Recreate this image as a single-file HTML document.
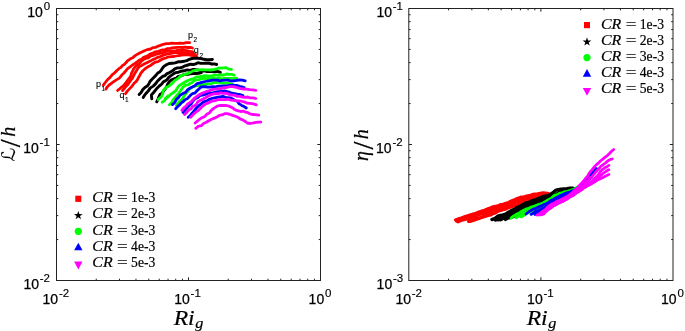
<!DOCTYPE html>
<html><head><meta charset="utf-8"><title>Figure</title>
<style>
html,body{margin:0;padding:0;background:#fff;}
body{width:685px;height:331px;overflow:hidden;position:relative;}
svg{position:absolute;left:0;top:0;display:block;}
.tk{font-family:"Liberation Sans",sans-serif;font-size:14px;fill:#000;stroke:#000;stroke-width:0.25px;}
.sp{font-family:"Liberation Sans",sans-serif;font-size:11.5px;fill:#000;stroke-width:0.15px;}
.ann{font-family:"Liberation Sans",sans-serif;font-size:9px;fill:#000;stroke:#000;stroke-width:0.1px;}
.anns{font-family:"Liberation Sans",sans-serif;font-size:6.5px;fill:#000;}
.it{font-family:"Liberation Serif",serif;font-style:italic;fill:#000;stroke:#000;stroke-width:0.2px;}
.rm{font-family:"Liberation Serif",serif;font-style:normal;fill:#000;stroke:#000;stroke-width:0.2px;}
.cal{font-family:"DejaVu Sans",sans-serif;font-style:italic;fill:#000;}
.c{fill:none;stroke-linejoin:round;stroke-linecap:round;}
</style></head><body>
<svg width="685" height="331" viewBox="0 0 685 331">
<rect x="0" y="0" width="685" height="331" fill="#fff"/>

<g class="c" stroke="#ff0000" stroke-width="2.8">
<path d="M103.3 85.2 L105.3 82.5 L107.4 79.8 L110.1 77.4 L112.3 74.6 L114.7 72.8 L116.7 70.8 L118.9 68.7 L121.0 67.3 L122.4 65.5 L124.4 64.4 L126.1 62.5 L128.1 60.3 L130.4 58.8 L132.8 57.7 L134.8 55.9 L137.2 54.4 L139.7 53.0 L142.3 51.8 L145.0 50.5 L147.7 49.5 L150.6 49.0 L152.9 47.6 L155.5 47.4 L157.8 46.3 L160.4 45.4 L163.2 44.3 L166.2 43.6 L169.0 43.7 L171.7 43.1 L174.4 43.4 L177.2 43.4 L180.0 43.2 L183.0 43.3 L186.2 42.7 L189.6 42.7"/>
<path d="M105.9 89.0 L107.3 86.9 L109.1 85.0 L111.3 83.4 L113.7 81.6 L116.4 79.9 L119.0 78.4 L120.6 76.7 L122.0 74.8 L124.0 73.0 L125.8 70.8 L127.6 68.6 L130.1 66.8 L132.5 65.0 L135.0 63.5 L137.1 62.0 L139.0 60.4 L141.4 59.4 L143.3 57.6 L145.7 56.5 L148.2 55.5 L150.5 53.9 L153.0 53.1 L155.3 51.8 L157.8 51.3 L160.3 50.7 L162.7 49.9 L165.1 49.6 L167.5 48.6 L170.0 48.4 L172.4 48.0 L174.9 47.6 L177.6 47.3 L180.3 47.4 L182.8 47.5 L185.3 47.2 L187.7 47.5 L190.1 47.3 L192.5 48.0"/>
<path d="M117.6 90.4 L119.7 88.8 L121.6 87.1 L123.8 85.4 L125.8 83.0 L127.6 80.3 L129.5 77.9 L131.0 75.6 L131.5 73.1 L132.7 70.9 L133.8 68.6 L135.5 66.6 L137.5 64.8 L139.8 63.3 L141.3 61.2 L143.4 59.6 L145.7 58.5 L148.3 57.8 L150.5 56.2 L153.0 55.5 L155.4 54.5 L157.9 53.9 L160.3 53.2 L162.7 52.6 L165.0 51.7 L167.5 51.3 L169.9 51.0 L172.4 51.2 L174.8 51.1 L177.3 50.4 L179.9 50.3 L182.4 50.2 L185.0 50.3 L187.7 50.8 L190.3 51.4 L193.0 51.8"/>
<path d="M122.5 90.6 L124.1 88.6 L125.8 86.5 L127.7 84.7 L129.1 82.6 L130.5 80.6 L132.1 78.7 L133.3 76.3 L134.6 73.7 L136.1 71.2 L137.5 69.0 L139.0 66.7 L141.8 65.4 L144.6 63.8 L147.4 62.5 L150.3 61.1 L152.9 59.6 L155.4 58.5 L157.8 57.3 L160.3 56.6 L162.6 55.4 L165.0 54.6 L167.5 54.0 L169.9 53.5 L172.4 53.2 L174.8 52.7 L177.3 52.5 L179.9 52.6 L182.5 52.5 L185.0 52.8 L187.6 52.9 L190.2 53.9 L192.8 54.1 L195.4 54.4"/>
<path d="M125.5 93.7 L127.1 91.4 L129.0 89.4 L130.9 87.4 L132.6 85.4 L134.1 83.3 L136.0 81.6 L137.5 79.6 L138.5 77.4 L139.7 75.5 L140.9 73.2 L143.1 70.5 L145.9 68.2 L148.3 66.6 L150.6 65.5 L152.8 63.7 L155.2 62.2 L158.0 61.6 L160.3 60.2 L162.8 58.8 L165.8 58.0 L168.6 56.8 L171.2 56.6 L173.7 56.5 L176.1 56.0 L178.7 55.5 L181.7 55.0 L185.0 54.9 L188.1 54.7 L191.0 55.4 L193.8 55.7 L196.6 56.1"/>
</g>
<g class="c" stroke="#000000" stroke-width="2.9">
<path d="M139.1 94.5 L141.1 92.5 L142.8 89.6 L144.9 87.5 L147.2 86.1 L148.7 84.1 L149.8 81.8 L151.6 79.7 L153.8 77.5 L155.9 75.4 L157.7 73.1 L159.8 71.9 L161.2 70.3 L162.3 68.4 L163.9 66.4 L166.4 64.8 L169.1 63.5 L172.2 63.2 L175.2 62.9 L178.1 61.8 L181.1 61.8 L183.9 61.3 L186.8 60.7 L189.4 59.3 L192.0 58.5 L194.9 58.1 L198.1 58.2 L201.2 58.6 L203.9 59.3 L206.6 59.8 L209.5 59.8 L212.4 59.5"/>
<path d="M143.2 97.6 L144.6 95.2 L146.2 93.2 L148.2 91.1 L150.1 88.1 L153.2 86.1 L155.7 83.6 L157.3 81.3 L159.0 79.6 L160.8 77.9 L162.8 76.3 L165.2 75.5 L167.0 73.6 L169.5 72.6 L172.2 71.1 L174.8 68.9 L177.4 67.9 L180.0 67.9 L182.5 67.1 L185.1 65.8 L187.9 65.0 L190.6 64.2 L193.3 64.5 L195.7 63.9 L198.0 62.7 L200.5 63.3 L202.9 63.4 L205.5 63.1 L208.6 63.2 L211.7 64.0 L214.3 63.9 L216.7 64.5"/>
<path d="M151.8 98.8 L151.4 95.0 L154.0 92.0 L156.5 88.8 L159.3 86.0 L161.9 83.9 L163.3 81.8 L165.4 80.9 L167.1 79.6 L168.6 77.5 L170.7 75.9 L173.1 74.1 L175.8 72.6 L178.4 72.2 L180.9 71.3 L183.9 70.8 L187.1 69.9 L190.3 70.4 L193.3 69.4 L196.4 69.6 L199.6 70.3 L202.2 71.1 L204.7 70.8 L207.1 71.6 L209.5 71.3 L212.0 71.5 L214.5 71.8 L217.5 71.4 L220.4 72.3"/>
<path d="M156.7 101.8 L158.1 98.8 L159.1 96.3 L160.1 94.3 L162.3 93.2 L163.4 91.0 L165.3 88.9 L166.8 86.2 L168.1 83.5 L169.7 81.2 L171.7 79.8 L173.9 78.9 L176.3 78.2 L178.3 76.3 L180.9 75.8 L183.3 74.8 L185.6 74.2 L188.1 74.3 L190.6 73.7 L193.3 73.5 L196.0 73.5 L198.7 73.4 L201.3 72.6"/>
</g>
<g class="c" stroke="#00ff00" stroke-width="2.8">
<path d="M158.1 99.5 L159.9 97.9 L161.8 96.1 L162.8 93.4 L163.3 90.6 L164.6 88.8 L166.4 87.3 L168.6 86.2 L170.6 84.8 L172.5 83.2 L174.0 81.2 L176.1 79.6 L178.5 78.1 L180.7 75.9 L183.7 74.7 L186.9 73.8 L190.0 72.6 L193.0 70.9 L196.3 70.0 L199.6 69.9 L202.5 69.6 L205.1 69.9 L207.7 69.8 L210.5 70.0 L213.4 69.6 L216.1 69.2 L218.5 68.0 L221.1 68.1 L223.5 67.9 L226.2 67.7 L228.7 69.1 L231.5 69.3"/>
<path d="M162.2 102.2 L164.6 100.6 L166.0 98.2 L168.4 96.8 L170.3 94.6 L172.9 92.8 L175.3 91.3 L176.8 89.1 L178.4 86.4 L180.8 84.6 L183.0 83.2 L185.0 82.0 L187.3 80.7 L190.3 79.5 L193.6 78.6 L196.6 76.9 L199.7 76.7 L202.4 76.2 L204.8 75.7 L207.3 75.9 L209.9 76.1 L212.6 75.6 L215.4 74.8 L218.3 75.4 L221.1 75.0 L223.9 75.0 L226.6 74.0 L229.2 74.4 L231.7 74.4 L234.1 75.2"/>
<path d="M169.4 104.8 L171.5 102.8 L172.9 100.2 L174.7 97.9 L176.8 95.5 L179.1 92.8 L181.2 89.8 L183.3 86.9 L185.5 85.2 L188.0 84.8 L189.9 83.5 L192.1 82.5 L194.0 80.8 L196.2 79.8 L198.7 79.7 L201.1 78.9 L203.5 78.1 L206.0 78.8 L208.4 78.5 L210.9 78.6 L213.5 78.0 L216.1 78.8 L218.8 78.1 L221.5 78.9 L224.2 78.5 L227.1 78.3 L230.1 78.4 L233.4 78.7 L236.8 78.2"/>
<path d="M176.3 105.3 L177.7 103.5 L179.5 101.5 L182.0 99.4 L183.8 96.5 L185.5 94.0 L187.5 91.6 L189.5 89.2 L191.6 87.6 L193.8 86.5 L196.7 85.6 L200.0 85.4 L202.9 84.6 L205.8 84.5 L208.5 83.9 L211.1 83.6 L213.5 82.6 L216.2 82.5 L219.0 82.2 L221.7 83.1 L224.7 83.2 L227.8 83.2 L230.7 84.0 L233.1 84.6"/>
<path d="M165.2 99.0 L168.0 96.0"/>
</g>
<g class="c" stroke="#0000ff" stroke-width="2.8">
<path d="M172.4 104.6 L174.8 102.5 L176.2 99.6 L178.4 97.6 L180.1 95.2 L182.9 93.6 L185.8 92.2 L187.5 89.9 L189.6 88.3 L192.2 87.1 L194.8 85.8 L197.1 83.6 L200.0 82.9 L202.6 82.2 L205.3 81.5 L207.7 81.0 L210.2 80.7 L212.6 80.2 L215.1 80.2 L217.5 80.1 L220.0 80.8 L222.6 80.3 L225.3 80.2 L228.2 80.2 L231.0 81.0 L233.8 80.8 L236.6 80.4 L239.4 80.0 L242.3 80.2 L245.2 80.9"/>
<path d="M175.6 108.8 L177.6 106.6 L179.7 104.8 L181.3 102.8 L183.3 101.5 L184.9 99.7 L187.2 98.7 L188.9 97.1 L190.5 95.3 L192.4 93.7 L194.9 93.1 L196.6 91.1 L198.9 89.0 L201.2 86.9 L204.1 86.7 L207.0 87.0 L209.8 87.1 L212.7 86.7 L215.6 86.8 L218.5 86.1 L221.4 86.2 L224.2 85.8 L227.1 85.8 L229.8 85.3 L232.4 85.2 L234.8 85.4 L237.3 85.5 L239.6 86.3 L241.9 86.9 L244.2 87.5"/>
<path d="M183.0 112.5 L185.2 110.1 L187.1 107.6 L189.2 105.7 L191.3 103.8 L192.9 101.1 L195.0 98.8 L197.9 97.5 L200.2 95.4 L203.2 95.0 L205.9 94.2 L208.5 93.0 L211.2 93.2 L213.7 92.7 L216.2 92.0 L219.0 91.7 L221.8 91.5 L224.5 90.8 L227.1 91.6 L229.5 92.2 L232.0 93.2 L234.6 93.6 L237.3 94.2 L240.1 94.7 L243.0 95.5"/>
<path d="M188.2 117.3 L190.5 115.2 L192.3 112.9 L194.1 111.1 L195.5 109.1 L197.2 107.2 L199.3 105.3 L201.5 103.6 L203.6 101.9 L206.3 101.1 L208.8 99.6 L211.6 98.5 L214.4 97.8 L217.2 97.3 L220.0 96.8 L222.8 96.3 L225.6 97.3 L228.3 97.6 L230.9 98.1 L233.1 99.2 L235.1 100.5 L237.6 101.4 L239.2 103.9 L241.7 105.4 L244.1 106.6 L246.3 108.0"/>
</g>
<g class="c" stroke="#ff00ff" stroke-width="2.8">
<path d="M181.9 110.4 L183.8 107.9 L186.2 106.0 L187.7 103.9 L189.8 102.6 L191.9 101.0 L194.0 98.7 L196.6 96.6 L199.3 94.7 L202.0 93.3 L204.6 92.3 L207.0 91.3 L209.5 90.6 L212.2 89.5 L215.0 89.1 L217.9 88.6 L220.9 88.6 L223.7 87.6 L226.7 87.5 L229.5 86.7 L232.4 86.7 L235.2 87.0 L238.0 87.9 L240.8 88.6 L243.6 89.1 L246.7 89.1 L249.7 89.7 L252.8 89.9 L255.8 90.3"/>
<path d="M184.6 114.6 L186.9 112.2 L188.9 109.8 L191.3 108.7 L192.6 106.6 L194.9 105.6 L196.7 104.0 L197.8 101.7 L200.1 100.5 L202.7 99.2 L205.5 97.8 L208.3 96.0 L211.4 94.6 L214.6 93.7 L217.8 93.8 L220.5 92.9 L223.1 93.3 L225.8 93.1 L228.5 94.1 L231.2 95.2 L234.2 95.1 L236.9 96.3 L239.8 96.4 L242.5 97.2 L245.1 97.3 L247.6 97.0 L250.1 97.9 L252.9 97.9 L255.8 98.5"/>
<path d="M190.6 117.3 L193.2 114.5 L195.8 112.2 L198.5 110.3 L200.8 108.0 L203.1 105.8 L205.7 103.9 L208.8 102.6 L211.9 101.2 L215.3 100.7 L218.6 99.3 L222.0 99.7 L225.1 99.7 L228.1 99.1 L231.0 100.1 L234.1 100.3 L237.1 101.0 L239.8 100.9 L242.3 101.5 L244.7 102.1 L247.1 103.2 L249.6 103.4 L252.0 103.7 L254.2 104.2 L256.3 104.8"/>
<path d="M195.1 123.0 L197.3 121.2 L199.5 119.3 L201.9 117.7 L204.7 116.6 L206.8 114.3 L209.6 112.8 L211.3 110.4 L213.2 108.7 L215.3 107.4 L217.5 106.0 L220.4 105.4 L223.4 105.5 L226.3 105.5 L228.9 106.1 L231.4 107.2 L233.6 108.7 L235.8 110.1 L238.3 110.8 L240.7 111.5 L243.3 111.1 L245.6 112.2 L247.9 112.7 L250.0 113.8 L252.5 114.5 L255.6 114.6 L258.8 115.1"/>
<path d="M195.8 128.3 L198.2 126.4 L201.3 125.7 L203.5 123.5 L206.3 122.3 L208.8 120.7 L211.5 119.2 L214.3 118.1 L217.0 117.0 L219.3 115.3 L222.1 114.9 L224.6 113.7 L227.3 113.7 L230.0 114.4 L232.7 115.4 L235.3 116.3 L237.9 117.3 L240.1 118.9 L242.6 119.9 L244.9 121.2 L247.2 123.0 L250.3 123.5 L253.4 122.9 L256.0 122.3 L258.4 122.1 L260.8 122.1"/>
</g>
<g class="c" stroke="#ff0000" stroke-width="3.1">
<path d="M455.5 220.0 L458.3 218.8 L461.3 218.0 L464.1 216.8 L467.0 215.9 L469.8 215.0 L472.4 214.3 L474.9 213.6 L477.2 212.7 L479.6 211.7 L482.0 210.9 L484.4 210.1 L486.8 209.2 L489.2 208.3 L491.5 207.3 L494.1 206.6 L497.1 206.1 L499.9 204.8 L503.0 204.2 L505.9 203.3 L508.7 202.4 L511.3 200.9 L513.9 199.9 L516.4 198.8 L518.9 197.9 L521.4 197.0 L524.1 196.7 L526.7 196.1 L529.4 195.6 L532.0 194.6 L534.7 194.0 L537.5 193.8 L540.3 193.3 L543.0 192.8 L545.7 193.1 L548.5 193.6"/>
<path d="M456.5 221.2 L459.1 220.0 L461.9 219.3 L464.7 218.6 L467.4 217.6 L470.0 216.7 L472.5 216.0 L474.8 214.8 L477.1 213.9 L479.5 213.1 L482.0 212.5 L484.4 211.8 L486.9 211.2 L489.2 210.2 L491.6 209.4 L494.2 208.6 L497.0 207.6 L500.0 206.7 L502.9 205.5 L505.9 205.0 L508.4 203.8 L511.1 203.3 L513.5 202.3 L516.0 201.2 L518.4 200.3 L521.0 199.6 L523.5 199.1 L526.2 198.3 L528.9 197.2 L531.9 196.4 L535.0 196.0 L537.9 195.4 L540.5 194.8 L543.0 194.4 L545.5 194.4 L548.0 194.0"/>
<path d="M458.0 221.8 L460.9 220.6 L464.0 219.8 L467.0 218.9 L469.9 218.3 L472.4 217.3 L474.9 216.6 L477.2 215.6 L479.6 214.6 L482.1 213.8 L485.1 213.3 L488.0 212.2 L491.0 211.0 L493.8 210.0 L496.4 209.4 L498.8 208.6 L501.2 207.6 L503.6 206.7 L506.1 206.1 L508.6 205.3 L510.9 204.0 L513.4 203.0 L516.0 202.2 L518.5 201.4 L521.0 200.8 L523.4 199.7 L526.2 199.2 L529.0 198.4 L532.0 197.5 L535.0 196.6 L538.0 196.4 L540.7 195.5 L543.5 195.4 L546.2 194.6 L549.0 194.4"/>
<path d="M468.5 221.5 L471.3 220.3 L474.3 219.6 L477.1 218.4 L480.0 217.8 L482.5 216.7 L484.9 215.7 L487.4 214.9 L490.0 214.2 L492.5 213.4 L495.1 212.7 L497.4 211.3 L500.0 210.5 L502.5 209.6 L505.1 209.3 L507.4 208.1 L509.9 207.3 L512.4 206.4 L515.0 205.6 L517.6 205.0 L520.1 204.0 L522.5 203.1 L525.1 202.3 L527.6 201.4 L530.1 200.2 L532.9 199.2 L536.1 198.8 L539.0 197.8 L541.8 196.6 L544.4 196.2 L546.6 195.4 L549.0 194.8"/>
<path d="M470.0 221.5 L473.0 220.5 L476.0 219.5 L478.9 218.5 L481.9 217.4 L485.0 216.6 L488.0 215.6 L490.9 214.9 L493.2 213.4 L495.8 212.7 L497.9 211.2 L500.3 210.4 L502.7 209.7 L505.1 208.9 L507.5 207.9 L509.9 206.8 L512.5 206.3 L515.0 205.4 L517.6 204.9 L519.9 203.6 L522.5 202.8 L525.0 202.0"/>
</g>
<g class="c" stroke="#000000" stroke-width="3.4">
<path d="M492.0 219.6 L495.1 218.3 L497.7 216.2 L500.5 215.5 L503.1 214.9 L505.6 214.1 L507.8 212.6 L510.0 211.4 L512.1 210.1 L514.6 209.4 L516.6 207.6 L519.1 206.8 L521.6 205.6 L523.8 204.0 L526.2 202.8 L528.8 202.4 L531.1 201.3 L533.4 200.2 L536.0 199.7 L538.3 198.5 L541.0 197.6 L543.6 196.4 L546.5 196.0 L549.2 195.1 L551.4 193.6 L553.6 192.3 L555.5 190.4 L558.3 189.7 L561.2 189.2 L564.1 189.0 L567.0 188.8 L570.0 188.3 L573.0 188.3"/>
<path d="M495.5 219.9 L497.9 218.7 L500.5 217.8 L502.9 216.8 L505.4 216.1 L507.4 214.6 L509.9 214.0 L512.1 212.9 L514.4 211.8 L516.6 210.6 L518.8 209.3 L521.0 207.9 L523.4 206.6 L526.0 205.4 L528.6 204.5 L530.9 202.8 L533.7 201.9 L536.6 201.4 L539.2 200.2 L541.8 199.1 L544.4 198.1 L547.0 197.4 L549.4 196.2 L552.2 195.6 L554.8 194.5 L557.5 193.5 L559.9 191.9 L562.6 191.0 L565.3 190.4 L568.1 190.0 L571.0 189.7 L574.0 189.0"/>
<path d="M500.5 219.8 L503.0 218.5 L505.4 217.1 L508.0 216.0 L510.7 215.0 L513.4 214.0 L516.0 213.0 L518.4 211.9 L520.6 210.7 L522.6 209.2 L525.2 208.6 L527.4 207.1 L530.0 206.3 L532.5 205.2 L535.1 204.5 L537.4 203.1 L539.9 202.1 L542.4 201.1 L544.9 200.0 L547.8 199.4 L550.4 198.0 L553.0 196.7 L556.0 195.6 L559.1 194.8 L561.9 193.4 L564.6 192.3 L567.4 191.9 L569.9 190.9 L572.1 190.4 L574.0 189.3"/>
<path d="M505.5 219.4 L507.5 218.2 L509.8 217.6 L512.2 217.0 L514.8 216.1 L517.5 215.1 L519.9 213.4 L522.6 212.3 L525.2 210.9 L527.9 209.6 L530.7 209.0 L533.0 207.6 L535.6 206.7 L537.9 205.2 L540.4 204.6 L542.5 203.3 L544.7 202.1 L547.2 201.4 L549.8 200.1 L552.2 198.0 L555.0 196.8"/>
<path d="M498.0 219.8 L500.4 218.9 L502.7 217.9 L505.1 216.6 L508.0 215.8 L510.9 214.7 L513.7 213.8 L516.2 212.8 L518.5 212.1 L520.8 211.1 L523.0 209.8 L525.3 208.5 L527.9 207.6 L530.6 206.8 L532.9 205.3 L535.4 204.4 L537.9 203.3 L540.6 202.7 L543.1 201.5 L545.5 200.0 L548.2 198.9 L550.9 197.9 L553.4 196.9 L555.7 195.8 L558.0 194.5"/>
</g>
<g class="c" stroke="#00ff00" stroke-width="2.8">
<path d="M511.0 218.2 L513.4 216.2 L515.9 214.6 L518.6 213.4 L521.1 211.8 L523.7 210.2 L526.2 208.9 L528.8 208.3 L531.1 207.1 L533.5 206.4 L535.9 205.5 L538.3 204.6 L540.8 203.8 L543.3 202.8 L545.5 201.4 L547.9 200.1 L550.5 198.7 L552.8 196.7 L555.1 195.0 L557.8 194.3 L560.1 193.1 L562.6 192.5 L564.9 191.6 L567.4 191.4 L569.7 190.7 L571.8 189.9 L574.0 189.0 L576.5 187.9 L579.0 186.2"/>
<path d="M516.0 217.7 L518.4 216.4 L520.8 215.2 L523.0 213.5 L525.7 212.4 L528.3 211.0 L530.9 209.8 L533.2 208.5 L535.4 207.6 L537.8 206.7 L540.2 205.9 L542.6 204.3 L545.3 203.4 L547.9 202.3 L550.2 200.9 L551.9 199.1 L554.0 197.6 L556.4 196.9 L558.8 196.0 L561.0 194.7 L563.2 193.6 L565.8 193.3 L568.0 192.1 L570.4 191.4 L572.7 190.3 L575.1 189.2 L577.4 187.5 L580.0 186.2"/>
<path d="M521.0 216.9 L524.1 215.3 L526.8 213.4 L529.3 212.2 L531.8 211.3 L534.2 210.1 L536.6 208.6 L539.3 207.4 L541.9 206.3 L544.3 205.1 L546.6 203.7 L548.9 202.2 L551.3 200.9 L553.7 199.9 L556.1 198.7 L558.2 197.0 L560.7 196.1 L563.1 195.1 L565.2 193.7 L567.7 193.3 L569.9 191.9 L572.4 191.0 L574.7 189.7 L577.0 188.5 L578.9 187.3 L581.0 186.4"/>
</g>
<g class="c" stroke="#0000ff" stroke-width="2.8">
<path d="M526.0 214.0 L528.5 212.0 L531.1 210.4 L533.5 209.1 L535.9 208.3 L538.4 207.1 L541.1 205.9 L543.8 204.5 L546.6 203.5 L548.8 202.1 L550.7 200.6 L553.0 199.6 L555.3 198.3 L557.7 196.9 L560.0 195.6 L562.5 194.8 L564.8 193.6 L567.2 192.7 L569.6 192.1 L571.9 191.0 L574.5 190.1 L576.8 188.8 L578.6 187.0 L580.6 185.5 L582.1 183.5 L584.2 181.9 L586.1 179.7 L588.0 177.2 L589.8 174.8 L592.0 172.7 L593.9 170.5 L596.0 168.4"/>
<path d="M531.0 214.4 L533.6 213.0 L535.9 211.1 L538.4 210.3 L540.8 209.3 L543.1 208.1 L545.4 206.8 L547.6 205.2 L550.3 204.1 L553.0 202.2 L556.0 200.9 L558.5 199.5 L560.6 197.9 L563.2 196.8 L566.1 195.4 L568.9 193.3 L572.0 192.0 L574.9 190.7 L577.2 188.7 L579.8 187.2 L581.8 185.0 L584.1 183.2 L585.8 180.9 L588.0 179.1 L590.2 177.3 L591.9 175.0 L593.9 173.0 L596.0 171.1 L598.0 169.1"/>
<path d="M535.0 214.5 L537.4 212.7 L540.0 210.8 L542.9 209.1 L545.6 207.4 L548.2 206.2 L550.1 204.6 L552.2 203.3 L554.2 201.7 L556.7 200.8 L559.1 199.2 L562.0 198.0 L564.8 196.6 L567.0 195.1 L569.1 194.0 L571.1 192.5 L573.4 191.2 L575.8 190.0 L577.9 188.2 L580.5 186.9 L582.7 184.9 L585.0 182.9 L587.4 181.1 L589.6 178.9 L592.0 177.0"/>
</g>
<g class="c" stroke="#ff00ff" stroke-width="2.8">
<path d="M537.0 215.0 L539.2 214.0 L541.1 212.5 L543.2 211.0 L545.6 209.3 L548.0 206.8 L550.8 204.6 L553.8 203.4 L556.3 201.7 L559.3 200.7 L562.0 199.0 L565.0 197.6 L567.9 196.1 L570.0 194.3 L572.1 192.9 L573.9 191.1 L575.8 189.4 L577.8 187.5 L579.9 185.0 L582.3 182.5 L584.3 180.1 L586.0 178.0 L587.7 176.1 L588.9 173.7 L590.6 171.4 L592.6 169.2 L594.3 166.9 L596.2 164.9 L598.4 163.1 L600.4 161.0 L602.8 159.1 L605.2 157.1 L607.6 155.3 L609.7 153.3 L611.6 151.3 L613.7 149.5"/>
<path d="M539.0 215.0 L541.0 213.7 L543.1 212.2 L545.1 210.5 L547.6 209.4 L549.4 207.5 L551.5 205.9 L553.9 204.4 L556.6 203.3 L559.4 202.0 L562.1 200.5 L565.0 198.6 L567.7 196.9 L570.1 195.3 L572.5 194.0 L574.8 192.4 L576.9 190.8 L579.1 189.4 L580.9 187.7 L582.9 186.1 L584.4 184.2 L585.9 182.2 L588.0 180.7 L589.4 178.6 L591.4 177.1 L593.2 175.2 L594.9 173.1 L596.6 170.9 L598.7 169.1 L600.4 166.7 L602.9 164.9 L605.4 163.0 L607.6 160.9 L609.9 159.7 L612.3 159.0"/>
<path d="M541.0 214.8 L543.0 213.3 L545.1 211.6 L547.3 210.1 L549.6 208.6 L551.6 206.8 L554.0 205.5 L556.4 204.2 L558.9 202.7 L561.9 201.8 L564.5 200.4 L566.8 199.0 L568.8 197.3 L571.4 196.4 L573.6 194.9 L575.7 193.4 L578.0 192.1 L580.0 190.5 L581.9 188.9 L583.9 187.3 L585.9 185.7 L587.8 184.0 L590.0 182.3 L592.4 180.5 L594.6 178.5 L596.9 176.4 L598.9 173.9 L600.7 171.3 L602.8 169.3 L604.8 167.8 L607.0 166.7 L608.9 165.4"/>
<path d="M542.5 214.4 L544.3 212.6 L546.0 210.8 L548.1 209.4 L550.3 208.1 L552.4 206.3 L555.1 205.3 L557.4 203.5 L559.9 202.4 L562.4 201.1 L564.9 200.1 L567.1 199.0 L569.1 197.7 L571.2 196.2 L573.6 195.2 L575.6 193.4 L577.7 191.9 L580.2 190.8 L582.4 189.2 L584.7 187.7 L587.0 186.2 L589.2 184.8 L591.0 183.1 L593.2 181.6 L595.6 179.7 L598.0 177.9 L600.0 175.9 L602.1 174.3 L604.1 172.6 L606.4 171.1 L608.9 169.8"/>
<path d="M544.0 213.8 L545.5 211.9 L547.4 210.4 L549.0 208.6 L551.3 207.6 L553.6 205.7 L556.5 203.9 L559.6 202.2 L562.6 201.3 L565.1 199.6 L567.6 197.8 L569.8 196.3 L571.8 195.0 L574.1 193.9 L576.0 192.4 L578.1 191.0 L580.2 189.6 L582.3 188.0 L584.8 187.0 L587.2 185.7 L589.7 184.7 L592.2 183.4 L594.9 181.9 L597.5 179.9 L600.4 178.8 L603.0 177.4 L605.7 176.1 L608.9 174.5"/>
</g>
<g stroke="#222" stroke-width="1" fill="none">
<rect x="56.5" y="8.5" width="264.0" height="272.0"/>
<path d="M96.24 280.5v-1.8M96.24 8.5v1.8M56.5 239.56h1.8M320.5 239.56h-1.8M119.48 280.5v-1.8M119.48 8.5v1.8M56.5 215.61h1.8M320.5 215.61h-1.8M135.97 280.5v-1.8M135.97 8.5v1.8M56.5 198.62h1.8M320.5 198.62h-1.8M148.76 280.5v-1.8M148.76 8.5v1.8M56.5 185.44h1.8M320.5 185.44h-1.8M159.22 280.5v-1.8M159.22 8.5v1.8M56.5 174.67h1.8M320.5 174.67h-1.8M168.05 280.5v-1.8M168.05 8.5v1.8M56.5 165.57h1.8M320.5 165.57h-1.8M175.71 280.5v-1.8M175.71 8.5v1.8M56.5 157.68h1.8M320.5 157.68h-1.8M182.46 280.5v-1.8M182.46 8.5v1.8M56.5 150.72h1.8M320.5 150.72h-1.8M188.50 280.5v-3.2M188.50 8.5v3.2M56.5 144.50h3.2M320.5 144.50h-3.2M228.24 280.5v-1.8M228.24 8.5v1.8M56.5 103.56h1.8M320.5 103.56h-1.8M251.48 280.5v-1.8M251.48 8.5v1.8M56.5 79.61h1.8M320.5 79.61h-1.8M267.97 280.5v-1.8M267.97 8.5v1.8M56.5 62.62h1.8M320.5 62.62h-1.8M280.76 280.5v-1.8M280.76 8.5v1.8M56.5 49.44h1.8M320.5 49.44h-1.8M291.22 280.5v-1.8M291.22 8.5v1.8M56.5 38.67h1.8M320.5 38.67h-1.8M300.05 280.5v-1.8M300.05 8.5v1.8M56.5 29.57h1.8M320.5 29.57h-1.8M307.71 280.5v-1.8M307.71 8.5v1.8M56.5 21.68h1.8M320.5 21.68h-1.8M314.46 280.5v-1.8M314.46 8.5v1.8M56.5 14.72h1.8M320.5 14.72h-1.8"/>
</g>
<g stroke="#222" stroke-width="1" fill="none">
<rect x="408.8" y="8.5" width="264.2" height="272.0"/>
<path d="M448.57 280.5v-1.8M448.57 8.5v1.8M408.8 239.56h1.8M673 239.56h-1.8M471.83 280.5v-1.8M471.83 8.5v1.8M408.8 215.61h1.8M673 215.61h-1.8M488.33 280.5v-1.8M488.33 8.5v1.8M408.8 198.62h1.8M673 198.62h-1.8M501.13 280.5v-1.8M501.13 8.5v1.8M408.8 185.44h1.8M673 185.44h-1.8M511.59 280.5v-1.8M511.59 8.5v1.8M408.8 174.67h1.8M673 174.67h-1.8M520.44 280.5v-1.8M520.44 8.5v1.8M408.8 165.57h1.8M673 165.57h-1.8M528.10 280.5v-1.8M528.10 8.5v1.8M408.8 157.68h1.8M673 157.68h-1.8M534.86 280.5v-1.8M534.86 8.5v1.8M408.8 150.72h1.8M673 150.72h-1.8M540.90 280.5v-3.2M540.90 8.5v3.2M408.8 144.50h3.2M673 144.50h-3.2M580.67 280.5v-1.8M580.67 8.5v1.8M408.8 103.56h1.8M673 103.56h-1.8M603.93 280.5v-1.8M603.93 8.5v1.8M408.8 79.61h1.8M673 79.61h-1.8M620.43 280.5v-1.8M620.43 8.5v1.8M408.8 62.62h1.8M673 62.62h-1.8M633.23 280.5v-1.8M633.23 8.5v1.8M408.8 49.44h1.8M673 49.44h-1.8M643.69 280.5v-1.8M643.69 8.5v1.8M408.8 38.67h1.8M673 38.67h-1.8M652.54 280.5v-1.8M652.54 8.5v1.8M408.8 29.57h1.8M673 29.57h-1.8M660.20 280.5v-1.8M660.20 8.5v1.8M408.8 21.68h1.8M673 21.68h-1.8M666.96 280.5v-1.8M666.96 8.5v1.8M408.8 14.72h1.8M673 14.72h-1.8"/>
</g>
<text class="tk" x="27.3" y="17.1">10<tspan class="sp" dy="-7.0" dx="0.8">0</tspan></text>
<text class="tk" x="23.2" y="153.4">10<tspan class="sp" dy="-7.0" dx="0.8">-1</tspan></text>
<text class="tk" x="23.4" y="289.2">10<tspan class="sp" dy="-7.0" dx="0.8">-2</tspan></text>
<text class="tk" x="42.5" y="304">10<tspan class="sp" dy="-7.0" dx="0.8">-2</tspan></text>
<text class="tk" x="174.2" y="304">10<tspan class="sp" dy="-7.0" dx="0.8">-1</tspan></text>
<text class="tk" x="308.6" y="304">10<tspan class="sp" dy="-7.0" dx="0.8">0</tspan></text>
<text class="tk" x="376.4" y="17.1">10<tspan class="sp" dy="-7.0" dx="0.8">-1</tspan></text>
<text class="tk" x="376.0" y="153">10<tspan class="sp" dy="-7.0" dx="0.8">-2</tspan></text>
<text class="tk" x="376.6" y="289.2">10<tspan class="sp" dy="-7.0" dx="0.8">-3</tspan></text>
<text class="tk" x="395.4" y="304">10<tspan class="sp" dy="-7.0" dx="0.8">-2</tspan></text>
<text class="tk" x="527.1" y="304">10<tspan class="sp" dy="-7.0" dx="0.8">-1</tspan></text>
<text class="tk" x="661" y="304">10<tspan class="sp" dy="-7.0" dx="0.8">0</tspan></text>
<text class="it" transform="translate(173.7,325) scale(1.15,1)" font-size="20.5">Ri</text><text class="it" transform="translate(195.2,328.2) scale(1.12,1)" font-size="14.5">g</text>
<text class="it" transform="translate(526.7,325) scale(1.15,1)" font-size="20.5">Ri</text><text class="it" transform="translate(548.2,328.2) scale(1.12,1)" font-size="14.5">g</text>
<text class="cal" transform="translate(15.2,161.5) rotate(-90)" font-size="19">ℒ</text>
<text class="rm" transform="translate(19.7,147.3) rotate(-90)" font-size="28.5">/</text>
<text class="it" transform="translate(15.1,136.8) rotate(-90)" font-size="20">h</text>
<text class="it" transform="translate(367.8,161) rotate(-90)" font-size="20">η</text>
<text class="rm" transform="translate(372.6,149.4) rotate(-90)" font-size="28.5">/</text>
<text class="it" transform="translate(367.9,139.3) rotate(-90)" font-size="20">h</text>
<text class="ann" x="96" y="87.1">p<tspan class="anns" dy="4.2" dx="0.6">1</tspan></text>
<text class="ann" x="119.5" y="97.6">q<tspan class="anns" dy="4.2" dx="0.6">1</tspan></text>
<text class="ann" x="188" y="37.9">p<tspan class="anns" dy="4.2" dx="0.6">2</tspan></text>
<text class="ann" x="193.8" y="53.3">q<tspan class="anns" dy="4.2" dx="0.6">2</tspan></text>
<rect x="75.30" y="195.70" width="6" height="6.2" fill="#ff0000"/>
<polygon points="78.30,210.95 79.36,214.09 82.67,214.13 80.01,216.11 81.00,219.27 78.30,217.35 75.60,219.27 76.59,216.11 73.93,214.13 77.24,214.09" fill="#000"/>
<circle cx="78.30" cy="231.30" r="3.6" fill="#00ff00"/>
<polygon points="74.10,250.35 82.50,250.35 78.30,242.75" fill="#0000ff"/>
<polygon points="74.10,261.60 82.50,261.60 78.30,269.40" fill="#ff00ff"/>
<text class="it" transform="translate(92.30,202.30) scale(1.17,1)" font-size="13.6">CR</text>
<text class="rm" transform="translate(117.10,202.30) scale(1.4,1)" font-size="13.6">=</text>
<text class="rm" x="131.10" y="202.30" font-size="13.6">1e-3</text>
<text class="it" transform="translate(92.30,218.45) scale(1.17,1)" font-size="13.6">CR</text>
<text class="rm" transform="translate(117.10,218.45) scale(1.4,1)" font-size="13.6">=</text>
<text class="rm" x="131.10" y="218.45" font-size="13.6">2e-3</text>
<text class="it" transform="translate(92.30,234.60) scale(1.17,1)" font-size="13.6">CR</text>
<text class="rm" transform="translate(117.10,234.60) scale(1.4,1)" font-size="13.6">=</text>
<text class="rm" x="131.10" y="234.60" font-size="13.6">3e-3</text>
<text class="it" transform="translate(92.30,250.75) scale(1.17,1)" font-size="13.6">CR</text>
<text class="rm" transform="translate(117.10,250.75) scale(1.4,1)" font-size="13.6">=</text>
<text class="rm" x="131.10" y="250.75" font-size="13.6">4e-3</text>
<text class="it" transform="translate(92.30,266.90) scale(1.17,1)" font-size="13.6">CR</text>
<text class="rm" transform="translate(117.10,266.90) scale(1.4,1)" font-size="13.6">=</text>
<text class="rm" x="131.10" y="266.90" font-size="13.6">5e-3</text>
<rect x="584.00" y="22.00" width="6" height="6.2" fill="#ff0000"/>
<polygon points="587.00,37.25 588.06,40.39 591.37,40.43 588.71,42.41 589.70,45.57 587.00,43.65 584.30,45.57 585.29,42.41 582.63,40.43 585.94,40.39" fill="#000"/>
<circle cx="587.00" cy="57.60" r="3.6" fill="#00ff00"/>
<polygon points="582.80,76.65 591.20,76.65 587.00,69.05" fill="#0000ff"/>
<polygon points="582.80,87.90 591.20,87.90 587.00,95.70" fill="#ff00ff"/>
<text class="it" transform="translate(601.00,28.60) scale(1.17,1)" font-size="13.6">CR</text>
<text class="rm" transform="translate(625.80,28.60) scale(1.4,1)" font-size="13.6">=</text>
<text class="rm" x="639.80" y="28.60" font-size="13.6">1e-3</text>
<text class="it" transform="translate(601.00,44.75) scale(1.17,1)" font-size="13.6">CR</text>
<text class="rm" transform="translate(625.80,44.75) scale(1.4,1)" font-size="13.6">=</text>
<text class="rm" x="639.80" y="44.75" font-size="13.6">2e-3</text>
<text class="it" transform="translate(601.00,60.90) scale(1.17,1)" font-size="13.6">CR</text>
<text class="rm" transform="translate(625.80,60.90) scale(1.4,1)" font-size="13.6">=</text>
<text class="rm" x="639.80" y="60.90" font-size="13.6">3e-3</text>
<text class="it" transform="translate(601.00,77.05) scale(1.17,1)" font-size="13.6">CR</text>
<text class="rm" transform="translate(625.80,77.05) scale(1.4,1)" font-size="13.6">=</text>
<text class="rm" x="639.80" y="77.05" font-size="13.6">4e-3</text>
<text class="it" transform="translate(601.00,93.20) scale(1.17,1)" font-size="13.6">CR</text>
<text class="rm" transform="translate(625.80,93.20) scale(1.4,1)" font-size="13.6">=</text>
<text class="rm" x="639.80" y="93.20" font-size="13.6">5e-3</text>
</svg></body></html>
